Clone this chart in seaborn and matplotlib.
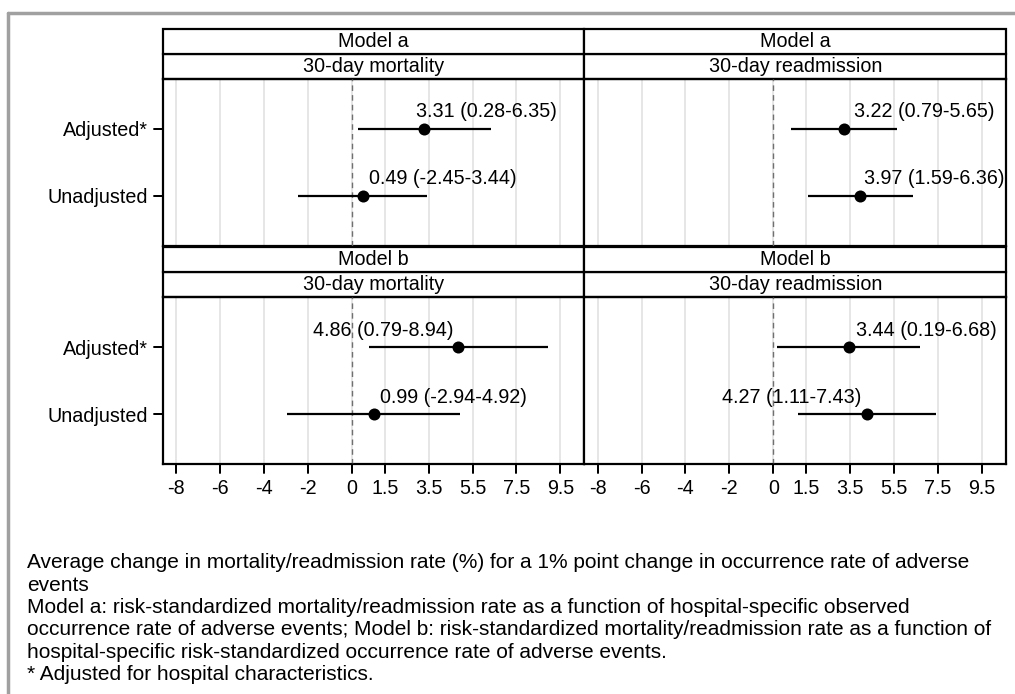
import numpy as np
import pandas as pd
import matplotlib.pyplot as plt
import matplotlib.transforms as mtransforms
import seaborn as sns
from matplotlib.patches import Rectangle
from matplotlib.lines import Line2D

# values
model = ['Model a'] * 4 + ['Model b'] * 4
outcome = ['30-day mortality', '30-day mortality', '30-day readmission', '30-day readmission'] * 2
group = ['Adjusted*', 'Unadjusted'] * 4
est = [3.31, 0.49, 3.22, 3.97, 4.86, 0.99, 3.44, 4.27]
lo = [0.28, -2.45, 0.79, 1.59, 0.79, -2.94, 0.19, 1.11]
hi = [6.35, 3.44, 5.65, 6.36, 8.94, 4.92, 6.68, 7.43]

groups = ['Adjusted*', 'Unadjusted']
xticks = [-8, -6, -4, -2, 0, 1.5, 3.5, 5.5, 7.5, 9.5]
xtick_labels = ['-8', '-6', '-4', '-2', '0', '1.5', '3.5', '5.5', '7.5', '9.5']

footnote = [
    'Average change in mortality/readmission rate (%) for a 1% point change in occurrence rate of adverse',
    'events',
    'Model a: risk-standardized mortality/readmission rate as a function of hospital-specific observed',
    'occurrence rate of adverse events; Model b: risk-standardized mortality/readmission rate as a function of',
    'hospital-specific risk-standardized occurrence rate of adverse events.',
    '* Adjusted for hospital characteristics.',
]

# marker label placement (like stata mlabpos), pixels
lab_ha = ['left', 'left', 'left', 'left', 'right', 'left', 'left', 'right']
lab_dx = [-8, 6, 10, 4, -5, 6, 7, -6]

df = pd.DataFrame({'model': model, 'outcome': outcome, 'group': group,
                   'est': est, 'lo': lo, 'hi': hi})
df['label'] = [f'{e:.2f} ({l:.2f}-{h:.2f})' for e, l, h in zip(est, lo, hi)]
df['ypos'] = df['group'].map({g: i for i, g in enumerate(groups)})

sns.set_style('white')
plt.rcParams['font.family'] = ['Liberation Sans', 'DejaVu Sans']
plt.rcParams['text.color'] = 'black'
plt.rcParams['xtick.color'] = 'black'
plt.rcParams['ytick.color'] = 'black'
FS = 14.2
FS_NOTE = 15


def draw_panel(data, **kws):
    ax = plt.gca()
    ax.axvline(0, color='#707070', lw=1, ls=(0, (4, 3)), zorder=2.7)
    ax.hlines(data['ypos'], data['lo'], data['hi'], color='black', lw=1.6, zorder=3)
    sns.scatterplot(data=data, x='est', y='ypos', ax=ax, color='black', s=75,
                    edgecolor='black', linewidth=0, zorder=4, legend=False)
    for i, r in data.iterrows():
        ax.annotate(r['label'], xy=(r['est'], r['ypos']), xytext=(lab_dx[i], 17),
                    textcoords='offset pixels', ha=lab_ha[i], va='center', fontsize=FS)


g = sns.FacetGrid(df, row='model', col='outcome', sharex=False, sharey=False,
                  despine=False, height=3, aspect=1.4)
g.map_dataframe(draw_panel)
g.set_titles('')
g.set_axis_labels('', '')

fig = g.figure
fig.set_size_inches(10.15, 6.94)

hdr = 25 / 166.5
for (row_name, col_name), ax in g.axes_dict.items():
    ax.set_xlim(-8.6, 10.6)
    ax.set_ylim(1.75, -0.75)
    ax.set_xticks(xticks)
    ax.set_yticks(range(len(groups)))
    ax.grid(axis='x', color='#e4e4e4', lw=1.3)
    ax.grid(axis='y', visible=False)
    for s in ax.spines.values():
        s.set_edgecolor('black')
        s.set_linewidth(1.6)
    bottom_row = row_name == 'Model b'
    left_col = col_name == '30-day mortality'
    ax.set_xticklabels(xtick_labels if bottom_row else [], fontsize=FS)
    ax.set_yticklabels(groups if left_col else [], fontsize=FS)
    ax.tick_params(axis='x', bottom=bool(bottom_row), labelbottom=bool(bottom_row),
                   direction='out', length=6.5, width=1.4, pad=4)
    ax.tick_params(axis='y', left=bool(left_col), labelleft=bool(left_col),
                   direction='out', length=6.5, width=1.4, pad=4)
    # two-level strip headers
    for k, txt in enumerate([col_name, row_name]):
        ax.add_patch(Rectangle((0, 1 + k * hdr), 1, hdr, transform=ax.transAxes,
                               facecolor='white', edgecolor='black', lw=1.6, clip_on=False))
        ax.text(0.5, 1 + (k + 0.5) * hdr, txt, transform=ax.transAxes,
                ha='center', va='center', fontsize=FS)

fig.subplots_adjust(left=163 / 1015, right=1006 / 1015, top=1 - 79 / 694,
                    bottom=1 - 464 / 694, hspace=0.312, wspace=0)

# outer tick marks as figure-level lines placed through each panel's axis transforms
TICK_PX = 9
for (row_name, col_name), ax in g.axes_dict.items():
    if row_name == 'Model b':
        trans = mtransforms.blended_transform_factory(ax.transData, fig.transFigure)
        y0 = ax.get_position().y0
        for xv in ax.get_xticks():
            fig.add_artist(Line2D([xv, xv], [y0 - TICK_PX / 694, y0], transform=trans,
                                  color='black', lw=1.4, zorder=10))
    if col_name == '30-day mortality':
        trans = mtransforms.blended_transform_factory(fig.transFigure, ax.transData)
        x0 = ax.get_position().x0
        for yv in ax.get_yticks():
            fig.add_artist(Line2D([x0 - TICK_PX / 1015, x0], [yv, yv], transform=trans,
                                  color='black', lw=1.4, zorder=10))

for j, line in enumerate(footnote):
    fig.text(27 / 1015, 1 - (563 + j * 22.3) / 694, line, ha='left', va='center',
             fontsize=FS_NOTE)

# grey frame along top and left edge
fig.add_artist(Line2D([8 / 1015, 1], [1 - 13 / 694] * 2, transform=fig.transFigure,
                      color='#a0a0a0', lw=2.5))
fig.add_artist(Line2D([8 / 1015] * 2, [0, 1 - 13 / 694], transform=fig.transFigure,
                      color='#a0a0a0', lw=2.5))

fig.savefig('out.png', dpi=100)
